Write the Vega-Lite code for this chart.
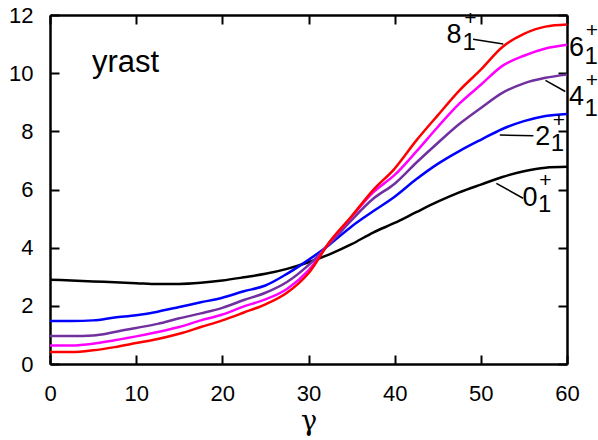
{
  "$schema": "https://vega.github.io/schema/vega-lite/v6.json",
  "width": 517,
  "height": 349,
  "autosize": {"type": "none"},
  "padding": {"left": 50, "top": 15, "right": 31, "bottom": 76},
  "background": "white",
  "config": {
    "view": {"stroke": null},
    "font": "Liberation Sans",
    "axis": {
      "domainColor": "black",
      "domainWidth": 2.5,
      "tickColor": "black",
      "tickWidth": 2,
      "tickSize": -9,
      "labelFont": "Liberation Sans",
      "labelFontSize": 22,
      "labelColor": "black",
      "labelFlush": false,
      "labelOverlap": false,
      "grid": false
    }
  },
  "datasets": {
    "curves": [
      {"g":0,"v":2.90,"s":"0"},{"g":2.5,"v":2.87,"s":"0"},{"g":5,"v":2.84,"s":"0"},{"g":7.5,"v":2.81,"s":"0"},{"g":10,"v":2.78,"s":"0"},{"g":12.5,"v":2.75,"s":"0"},{"g":15,"v":2.75,"s":"0"},{"g":17.5,"v":2.79,"s":"0"},{"g":20,"v":2.87,"s":"0"},{"g":22.5,"v":2.98,"s":"0"},{"g":25,"v":3.10,"s":"0"},{"g":27.5,"v":3.27,"s":"0"},{"g":30,"v":3.50,"s":"0"},{"g":32.5,"v":3.78,"s":"0"},{"g":35,"v":4.12,"s":"0"},{"g":37.5,"v":4.52,"s":"0"},{"g":40,"v":4.85,"s":"0"},{"g":42.5,"v":5.22,"s":"0"},{"g":45,"v":5.58,"s":"0"},{"g":47.5,"v":5.90,"s":"0"},{"g":50,"v":6.17,"s":"0"},{"g":52.5,"v":6.43,"s":"0"},{"g":55,"v":6.63,"s":"0"},{"g":57.5,"v":6.75,"s":"0"},{"g":60,"v":6.78,"s":"0"},
      {"g":0,"v":1.48,"s":"2"},{"g":2.5,"v":1.48,"s":"2"},{"g":5,"v":1.50,"s":"2"},{"g":7.5,"v":1.60,"s":"2"},{"g":10,"v":1.68,"s":"2"},{"g":12.5,"v":1.80,"s":"2"},{"g":15,"v":1.96,"s":"2"},{"g":17.5,"v":2.12,"s":"2"},{"g":20,"v":2.28,"s":"2"},{"g":22.5,"v":2.50,"s":"2"},{"g":25,"v":2.70,"s":"2"},{"g":27.5,"v":3.10,"s":"2"},{"g":30,"v":3.58,"s":"2"},{"g":32.5,"v":4.12,"s":"2"},{"g":35,"v":4.73,"s":"2"},{"g":37.5,"v":5.25,"s":"2"},{"g":40,"v":5.75,"s":"2"},{"g":42.5,"v":6.35,"s":"2"},{"g":45,"v":6.88,"s":"2"},{"g":47.5,"v":7.32,"s":"2"},{"g":50,"v":7.71,"s":"2"},{"g":52.5,"v":8.08,"s":"2"},{"g":55,"v":8.35,"s":"2"},{"g":57.5,"v":8.53,"s":"2"},{"g":60,"v":8.60,"s":"2"},
      {"g":0,"v":0.96,"s":"4"},{"g":2.5,"v":0.96,"s":"4"},{"g":5,"v":0.98,"s":"4"},{"g":7.5,"v":1.10,"s":"4"},{"g":10,"v":1.24,"s":"4"},{"g":12.5,"v":1.38,"s":"4"},{"g":15,"v":1.57,"s":"4"},{"g":17.5,"v":1.74,"s":"4"},{"g":20,"v":1.93,"s":"4"},{"g":22.5,"v":2.20,"s":"4"},{"g":25,"v":2.45,"s":"4"},{"g":27.5,"v":2.82,"s":"4"},{"g":30,"v":3.40,"s":"4"},{"g":32.5,"v":4.15,"s":"4"},{"g":35,"v":4.95,"s":"4"},{"g":37.5,"v":5.68,"s":"4"},{"g":40,"v":6.20,"s":"4"},{"g":42.5,"v":6.92,"s":"4"},{"g":45,"v":7.60,"s":"4"},{"g":47.5,"v":8.25,"s":"4"},{"g":50,"v":8.80,"s":"4"},{"g":52.5,"v":9.32,"s":"4"},{"g":55,"v":9.65,"s":"4"},{"g":57.5,"v":9.84,"s":"4"},{"g":60,"v":9.95,"s":"4"},
      {"g":0,"v":0.64,"s":"6"},{"g":2.5,"v":0.64,"s":"6"},{"g":5,"v":0.70,"s":"6"},{"g":7.5,"v":0.82,"s":"6"},{"g":10,"v":0.95,"s":"6"},{"g":12.5,"v":1.10,"s":"6"},{"g":15,"v":1.27,"s":"6"},{"g":17.5,"v":1.50,"s":"6"},{"g":20,"v":1.70,"s":"6"},{"g":22.5,"v":1.98,"s":"6"},{"g":25,"v":2.22,"s":"6"},{"g":27.5,"v":2.58,"s":"6"},{"g":30,"v":3.22,"s":"6"},{"g":32.5,"v":4.21,"s":"6"},{"g":35,"v":5.06,"s":"6"},{"g":37.5,"v":5.90,"s":"6"},{"g":40,"v":6.50,"s":"6"},{"g":42.5,"v":7.30,"s":"6"},{"g":45,"v":8.15,"s":"6"},{"g":47.5,"v":8.95,"s":"6"},{"g":50,"v":9.60,"s":"6"},{"g":52.5,"v":10.25,"s":"6"},{"g":55,"v":10.60,"s":"6"},{"g":57.5,"v":10.85,"s":"6"},{"g":60,"v":10.98,"s":"6"},
      {"g":0,"v":0.41,"s":"8"},{"g":2.5,"v":0.41,"s":"8"},{"g":5,"v":0.47,"s":"8"},{"g":7.5,"v":0.58,"s":"8"},{"g":10,"v":0.72,"s":"8"},{"g":12.5,"v":0.86,"s":"8"},{"g":15,"v":1.04,"s":"8"},{"g":17.5,"v":1.27,"s":"8"},{"g":20,"v":1.50,"s":"8"},{"g":22.5,"v":1.77,"s":"8"},{"g":25,"v":2.05,"s":"8"},{"g":27.5,"v":2.45,"s":"8"},{"g":30,"v":3.12,"s":"8"},{"g":32.5,"v":4.22,"s":"8"},{"g":35,"v":5.08,"s":"8"},{"g":37.5,"v":5.98,"s":"8"},{"g":40,"v":6.72,"s":"8"},{"g":42.5,"v":7.68,"s":"8"},{"g":45,"v":8.55,"s":"8"},{"g":47.5,"v":9.40,"s":"8"},{"g":50,"v":10.12,"s":"8"},{"g":52.5,"v":10.90,"s":"8"},{"g":55,"v":11.35,"s":"8"},{"g":57.5,"v":11.60,"s":"8"},{"g":60,"v":11.67,"s":"8"}
    ],
    "labels": [
      {"t":"8","part":"n","g":46.9,"v":11.31},{"t":"1","part":"sub","g":48.65,"v":11.04},{"t":"+","part":"sup","g":48.8,"v":11.85},
      {"t":"6","part":"n","g":61.1,"v":10.88},{"t":"1","part":"sub","g":62.8,"v":10.56},{"t":"+","part":"sup","g":62.9,"v":11.45},
      {"t":"4","part":"n","g":61.1,"v":9.19},{"t":"1","part":"sub","g":62.8,"v":8.78},{"t":"+","part":"sup","g":62.9,"v":9.72},
      {"t":"2","part":"n","g":57.2,"v":7.82},{"t":"1","part":"sub","g":58.9,"v":7.55},{"t":"+","part":"sup","g":59.05,"v":8.35},
      {"t":"0","part":"n","g":55.7,"v":5.70},{"t":"1","part":"sub","g":57.4,"v":5.48},{"t":"+","part":"sup","g":57.5,"v":6.28},
      {"t":"yrast","part":"title","g":4.87,"v":10.05}
    ],
    "leaders": [
      {"g":49.1,"v":11.17,"g2":52.6,"v2":11.0},
      {"g":57.5,"v":9.75,"g2":59.8,"v2":9.37},
      {"g":52.2,"v":7.87,"g2":56.1,"v2":7.85},
      {"g":51.8,"v":6.21,"g2":54.9,"v2":5.70}
    ]
  },
  "layer": [
    {
      "data": {"name": "curves"},
      "mark": {"type": "line", "strokeWidth": 2.5, "interpolate": "monotone"},
      "encoding": {
        "x": {"field": "g", "type": "quantitative", "scale": {"domain": [0, 60], "nice": false, "zero": false},
              "axis": {"orient": "bottom", "values": [0,10,20,30,40,50,60], "labelPadding": 28, "title": "γ", "titleFont": "DejaVu Serif", "titleFontSize": 27, "titleFontWeight": "normal", "titleColor": "black", "titlePadding": 4}},
        "y": {"field": "v", "type": "quantitative", "scale": {"domain": [0, 12], "nice": false, "zero": false},
              "axis": {"orient": "left", "values": [0,2,4,6,8,10,12], "labelPadding": 26, "title": null}},
        "color": {"field": "s", "type": "nominal", "scale": {"domain": ["0","2","4","6","8"], "range": ["#000000","#0000ff","#70309f","#ff00ff","#ff0000"]}, "legend": null}
      }
    },
    {
      "data": {"name": "leaders"},
      "mark": {"type": "rule", "color": "black", "strokeWidth": 1.5},
      "encoding": {
        "x": {"field": "g", "type": "quantitative", "scale": {"domain": [0, 60], "nice": false, "zero": false},
              "axis": {"orient": "top", "values": [0,10,20,30,40,50,60], "labels": false, "title": null}},
        "x2": {"field": "g2"},
        "y": {"field": "v", "type": "quantitative", "scale": {"domain": [0, 12], "nice": false, "zero": false},
              "axis": {"orient": "right", "values": [0,2,4,6,8,10,12], "labels": false, "title": null}},
        "y2": {"field": "v2"}
      }
    },
    {
      "data": {"name": "labels"},
      "transform": [{"filter": "datum.part === 'n'"}],
      "mark": {"type": "text", "fontSize": 27, "align": "center", "baseline": "middle", "color": "black"},
      "encoding": {
        "x": {"field": "g", "type": "quantitative", "axis": null},
        "y": {"field": "v", "type": "quantitative", "axis": null},
        "text": {"field": "t"}
      }
    },
    {
      "data": {"name": "labels"},
      "transform": [{"filter": "datum.part === 'sub'"}],
      "mark": {"type": "text", "fontSize": 24, "align": "center", "baseline": "middle", "color": "black"},
      "encoding": {
        "x": {"field": "g", "type": "quantitative", "axis": null},
        "y": {"field": "v", "type": "quantitative", "axis": null},
        "text": {"field": "t"}
      }
    },
    {
      "data": {"name": "labels"},
      "transform": [{"filter": "datum.part === 'sup'"}],
      "mark": {"type": "text", "fontSize": 21, "align": "center", "baseline": "middle", "color": "black"},
      "encoding": {
        "x": {"field": "g", "type": "quantitative", "axis": null},
        "y": {"field": "v", "type": "quantitative", "axis": null},
        "text": {"field": "t"}
      }
    },
    {
      "data": {"name": "labels"},
      "transform": [{"filter": "datum.part === 'title'"}],
      "mark": {"type": "text", "fontSize": 31, "align": "left", "baseline": "alphabetic", "color": "black"},
      "encoding": {
        "x": {"field": "g", "type": "quantitative", "axis": null},
        "y": {"field": "v", "type": "quantitative", "axis": null},
        "text": {"field": "t"}
      }
    }
  ],
  "resolve": {"axis": {"x": "independent", "y": "independent"}}
}
